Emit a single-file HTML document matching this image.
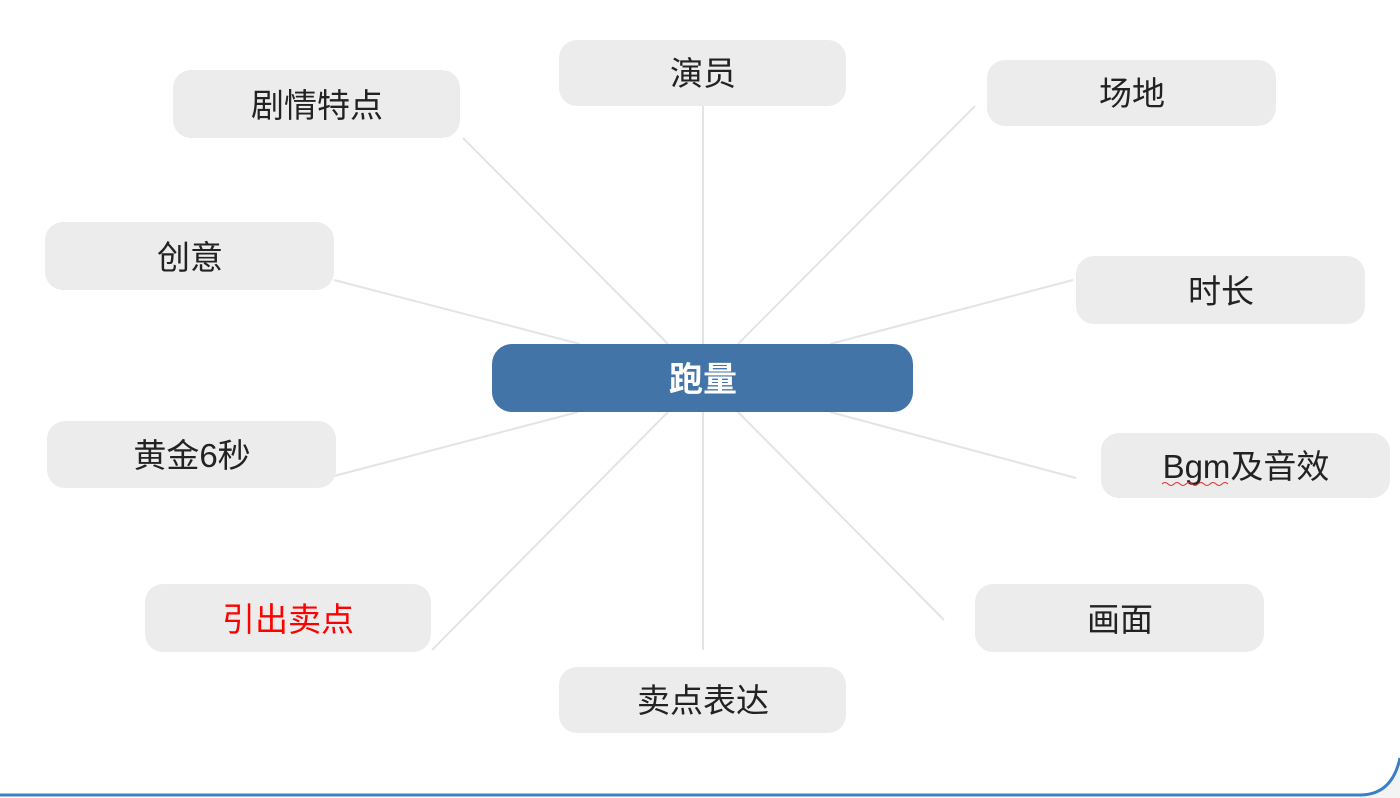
<!DOCTYPE html>
<html><head><meta charset="utf-8"><style>
body{margin:0;width:1400px;height:798px;overflow:hidden;background:#fff;font-family:"Liberation Sans","Noto Sans CJK SC",sans-serif;}
</style></head><body>
<svg width="1400" height="798" xmlns="http://www.w3.org/2000/svg" style="position:absolute;left:0;top:0">
<path d="M1360 798 L1360 795 Q1392 795 1400 758 L1400 798 Z" fill="#f3f3f3"/>
<path d="M0 795 L1360 795 Q1392 795 1400 758" fill="none" stroke="#3b7fc4" stroke-width="3"/>
<g stroke="#e4e4e4" stroke-width="2">
<line x1="463" y1="138" x2="668" y2="344"/>
<line x1="703" y1="106" x2="703" y2="344"/>
<line x1="975" y1="106" x2="738" y2="344"/>
<line x1="334" y1="280" x2="580" y2="344"/>
<line x1="1073" y1="280" x2="830" y2="344"/>
<line x1="334" y1="476" x2="578" y2="412"/>
<line x1="1076" y1="478" x2="830" y2="412"/>
<line x1="432" y1="650" x2="668" y2="412"/>
<line x1="944" y1="620" x2="738" y2="412"/>
<line x1="703" y1="650" x2="703" y2="412"/>
</g>
<g fill="#ececec">
<rect x="559" y="40" width="287" height="66" rx="18"/>
<rect x="173" y="70" width="287" height="68" rx="18"/>
<rect x="987" y="60" width="289" height="66" rx="18"/>
<rect x="45" y="222" width="289" height="68" rx="18"/>
<rect x="1076" y="256" width="289" height="68" rx="18"/>
<rect x="47" y="421" width="289" height="67" rx="18"/>
<rect x="1101" y="433" width="289" height="65" rx="18"/>
<rect x="145" y="584" width="286" height="68" rx="18"/>
<rect x="975" y="584" width="289" height="68" rx="18"/>
<rect x="559" y="667" width="287" height="66" rx="18"/>
</g>
<rect x="492" y="344" width="421" height="68" rx="20" fill="#4274a8"/>
<g font-family="Liberation Sans, Noto Sans CJK SC, sans-serif" font-size="33" fill="#222" text-anchor="middle">
<text x="703" y="85">演员</text>
<text x="317" y="117">剧情特点</text>
<text x="1132" y="105">场地</text>
<text x="190" y="269">创意</text>
<text x="1221" y="303">时长</text>
<text x="192" y="467">黄金6秒</text>
<text x="1246" y="478">Bgm及音效</text>
<text x="288" y="631" fill="#ff0000">引出卖点</text>
<text x="1120" y="631">画面</text>
<text x="703" y="712">卖点表达</text>
<text x="703" y="391" fill="#fff" font-weight="bold" font-size="34">跑量</text>
</g>
<path d="M1162 484 q3 -3 6 0 t6 0 t6 0 t6 0 t6 0 t6 0 t6 0 t6 0 t6 0 t6 0 t6 0" stroke="#e03030" fill="none" stroke-width="1"/>
</svg>
</body></html>
